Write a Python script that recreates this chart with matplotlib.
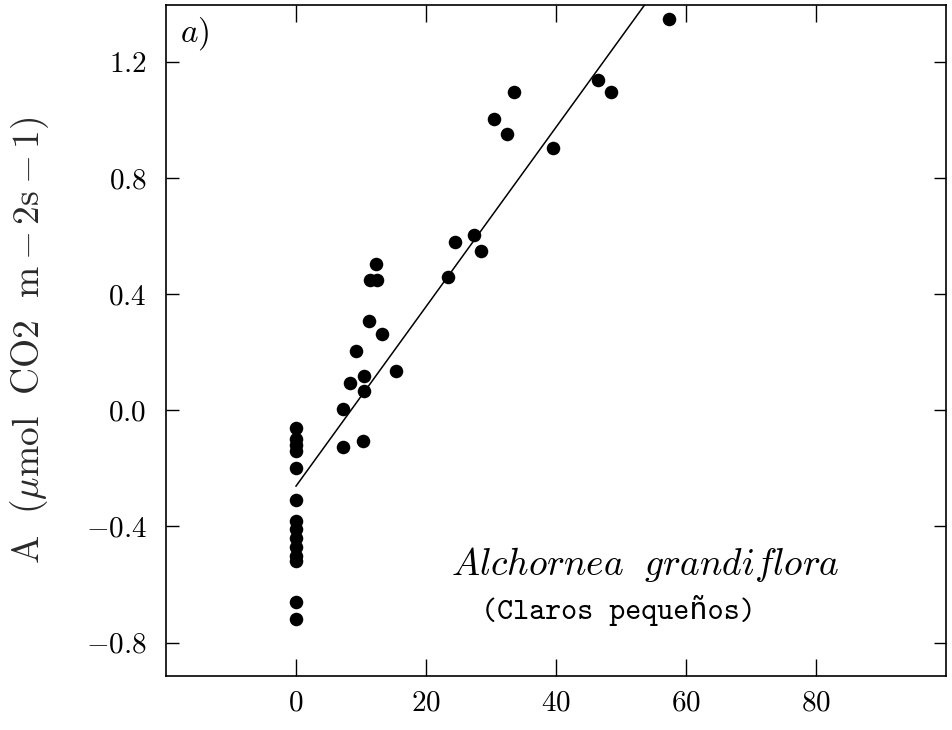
import matplotlib
matplotlib.use("Agg")
import matplotlib.pyplot as plt
import numpy as np

plt.rcParams['mathtext.fontset'] = 'cm'
plt.rcParams['font.family'] = ['cmr10', 'DejaVu Serif']
plt.rcParams['axes.unicode_minus'] = False

# Data (x: light / gap index, y: assimilation A)
x_vals = [0, 0, 0, 0, 0, 0, 0, 0, 0, 0, 0, 0, 0, 0,
          7.2, 7.3, 8.3, 9.3, 10.3, 10.4, 10.4, 11.3, 11.4, 12.3, 12.4, 13.3, 15.4,
          23.4, 24.4, 27.4, 28.4, 30.5, 32.5, 33.6, 39.5, 46.5, 48.5, 57.4]
y_vals = [-0.06, -0.10, -0.12, -0.14, -0.20, -0.31, -0.38, -0.41, -0.44, -0.47, -0.50, -0.52, -0.66, -0.72,
          -0.126, 0.004, 0.094, 0.206, -0.107, 0.117, 0.065, 0.306, 0.45, 0.504, 0.45, 0.264, 0.136,
          0.459, 0.581, 0.604, 0.550, 1.003, 0.952, 1.098, 0.902, 1.138, 1.098, 1.347]

fit_intercept = -0.261
fit_slope = 0.0309

xticks = [0, 20, 40, 60, 80]
yticks = [-0.8, -0.4, 0.0, 0.4, 0.8, 1.2]

species = r'$Alchornea\ \ grandiflora$'
subtitle = '(Claros pequeños)'
panel = r'$a)$'
ylabel = r'$\mathrm{A}\ \ (\mu\mathrm{mol\ \ CO2\ \ m}-\mathrm{2s}-\mathrm{1})$'

fig = plt.figure(figsize=(9.53, 7.3), dpi=100)
ax = fig.add_axes([166/953, 54/730, (946-166)/953, (676-5)/730])

ax.scatter(x_vals, y_vals, s=95, color='black', zorder=3, linewidths=0)
xf = np.array([0, max(x_vals)])
ax.plot(xf, fit_intercept + fit_slope * xf, color='black', lw=1.1, zorder=2)

ax.set_xlim(-20, 100)
ax.set_ylim(-0.915, 1.396)
ax.set_xticks(xticks)
ax.set_xticklabels([f'${v}$' for v in xticks])
ax.set_yticks(yticks)
ax.set_yticklabels([f'${v:.1f}$' for v in yticks])

ax.tick_params(axis='x', direction='in', length=12, width=1.0, top=True, labelsize=21, pad=10)
ax.tick_params(axis='y', direction='in', length=9, width=1.0, right=True, labelsize=21, pad=14)
for s in ax.spines.values():
    s.set_linewidth(1.2)

ax.set_ylabel(ylabel, fontsize=27, color='#2a2a2a')
ax.yaxis.set_label_coords(-0.148, 0.5)

ax.text(0.018, 0.985, panel, transform=ax.transAxes, fontsize=24, ha='left', va='top')
ax.text(53.8, -0.53, species, fontsize=27, ha='center', va='center')
ax.text(49.6, -0.69, subtitle, fontsize=22, ha='center', va='center',
        family=['cmtt10', 'DejaVu Sans Mono'])

fig.savefig('out.png', dpi=100)
